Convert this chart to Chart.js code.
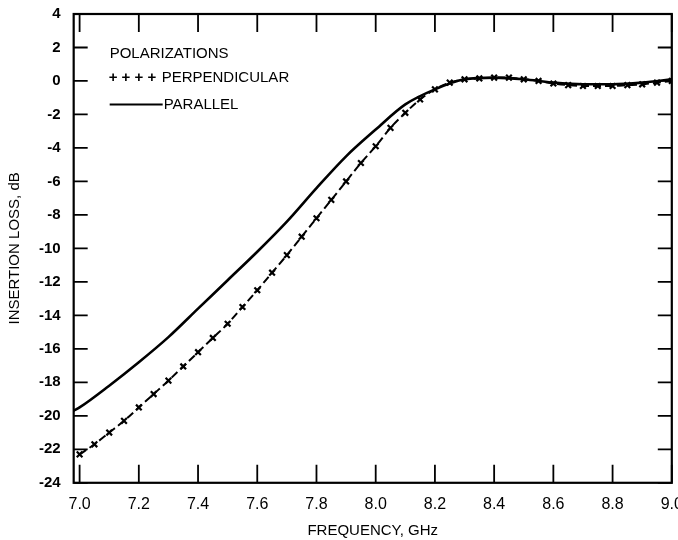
<!DOCTYPE html>
<html><head><meta charset="utf-8">
<script src="https://cdn.jsdelivr.net/npm/chart.js@4/dist/chart.umd.min.js"></script>
<style>html,body{margin:0;background:#fff}#wrap{width:678px;height:540px}</style>
</head><body><div id="wrap"><canvas id="c"></canvas></div>
<script>
"use strict";
const perpFreq = [7.0,7.05,7.1,7.15,7.2,7.25,7.3,7.35,7.4,7.45,7.5,7.55,7.6,7.65,7.7,7.75,7.8,7.85,7.9,7.95,8.0,8.05,8.1,8.15,8.2,8.25,8.3,8.35,8.4,8.45,8.5,8.55,8.6,8.65,8.7,8.75,8.8,8.85,8.9,8.95,9.0];
const perpLoss = [-22.3,-21.7,-21.0,-20.3,-19.5,-18.7,-17.9,-17.05,-16.2,-15.35,-14.5,-13.5,-12.5,-11.45,-10.4,-9.3,-8.2,-7.1,-6.0,-4.9,-3.9,-2.8,-1.9,-1.1,-0.5,-0.1,0.1,0.15,0.2,0.2,0.1,0.0,-0.15,-0.25,-0.3,-0.3,-0.3,-0.25,-0.2,-0.1,0.0];
const parFreq = [6.98,7.0,7.1,7.2,7.3,7.4,7.5,7.6,7.7,7.8,7.9,8.0,8.1,8.2,8.3,8.4,8.5,8.6,8.7,8.8,8.9,9.0];
const parLoss = [-19.7,-19.5,-18.2,-16.8,-15.3,-13.6,-11.9,-10.2,-8.4,-6.4,-4.5,-2.9,-1.4,-0.5,0.1,0.2,0.1,-0.1,-0.2,-0.2,-0.1,0.1];
const xTicks = [7.0,7.2,7.4,7.6,7.8,8.0,8.2,8.4,8.6,8.8,9.0];
const yTicks = [4,2,0,-2,-4,-6,-8,-10,-12,-14,-16,-18,-20,-22,-24];

const FONT = "'Liberation Sans', Arial, sans-serif";

// inward tick marks, frame and the legend text
const frame = {
  id: "frame",
  afterDraw(chart) {
    const { ctx, chartArea: a, scales: { x, y } } = chart;
    ctx.save();
    ctx.strokeStyle = "#000";
    ctx.lineWidth = 2.2;
    ctx.strokeRect(a.left, a.top, a.right - a.left, a.bottom - a.top);
    ctx.lineWidth = 1.8;
    ctx.beginPath();
    xTicks.forEach((v) => {
      const px = x.getPixelForValue(v);
      ctx.moveTo(px, a.bottom); ctx.lineTo(px, a.bottom - 18);
      ctx.moveTo(px, a.top); ctx.lineTo(px, a.top + 18);
    });
    yTicks.forEach((v) => {
      const py = y.getPixelForValue(v);
      ctx.moveTo(a.left, py); ctx.lineTo(a.left + 14, py);
      ctx.moveTo(a.right, py); ctx.lineTo(a.right - 14, py);
    });
    ctx.stroke();
    ctx.fillStyle = "#000";
    ctx.font = "15px " + FONT;
    ctx.textBaseline = "middle";
    const lx = a.left + 36;
    ctx.fillText("POLARIZATIONS", lx, y.getPixelForValue(1.6));
    ctx.font = "bold 15px " + FONT;
    ctx.fillText("+ + + +", lx - 1, y.getPixelForValue(0.2));
    ctx.font = "15px " + FONT;
    ctx.fillText("PERPENDICULAR", lx + 52, y.getPixelForValue(0.2));
    ctx.beginPath();
    ctx.lineWidth = 2;
    const ly = y.getPixelForValue(-1.4);
    ctx.moveTo(lx, ly); ctx.lineTo(lx + 53, ly); ctx.stroke();
    ctx.fillText("PARALLEL", lx + 54, ly);
    ctx.restore();
  }
};

new Chart(document.getElementById("c"), {
  type: "line",
  data: {
    datasets: [
      {
        label: "PERPENDICULAR",
        data: perpFreq.map((f, i) => ({ x: f, y: perpLoss[i] })),
        borderColor: "#000", borderWidth: 2, borderDash: [8, 4],
        pointStyle: "crossRot", pointRadius: 4, pointBorderWidth: 2.2, pointBorderColor: "#000",
        cubicInterpolationMode: "monotone", fill: false,
      },
      {
        label: "PARALLEL",
        data: parFreq.map((f, i) => ({ x: f, y: parLoss[i] })),
        borderColor: "#000", borderWidth: 2.6, pointRadius: 0,
        cubicInterpolationMode: "monotone", fill: false,
      },
    ],
  },
  options: {
    responsive: true, maintainAspectRatio: false, animation: false,
    layout: { padding: { top: 4, right: 2, left: 2, bottom: 0 } },
    plugins: { legend: { display: false }, tooltip: { enabled: false } },
    scales: {
      x: {
        type: "linear", min: 6.98, max: 9.0,
        afterBuildTicks: (s) => { s.ticks = xTicks.map((v) => ({ value: v })); },
        // let the 9.0 label run off the edge like the original
        afterFit: (s) => { s.paddingRight = 0; },
        ticks: { color: "#000", font: { family: FONT, size: 16 }, padding: 4, callback: (v) => v.toFixed(1) },
        grid: { display: false },
        border: { display: false },
        title: { display: true, text: "FREQUENCY, GHz", color: "#000", font: { family: FONT, size: 15 }, padding: { top: 4, bottom: 0 } },
      },
      y: {
        type: "linear", min: -24, max: 4,
        afterBuildTicks: (s) => { s.ticks = yTicks.map((v) => ({ value: v })); },
        ticks: { color: "#000", font: { family: FONT, size: 15, weight: "bold" }, padding: 5 },
        grid: { display: false },
        border: { display: false },
        title: { display: true, text: "INSERTION LOSS, dB", color: "#000", font: { family: FONT, size: 15 }, padding: { bottom: 10 } },
      },
    },
  },
  plugins: [frame],
});
</script></body></html>
